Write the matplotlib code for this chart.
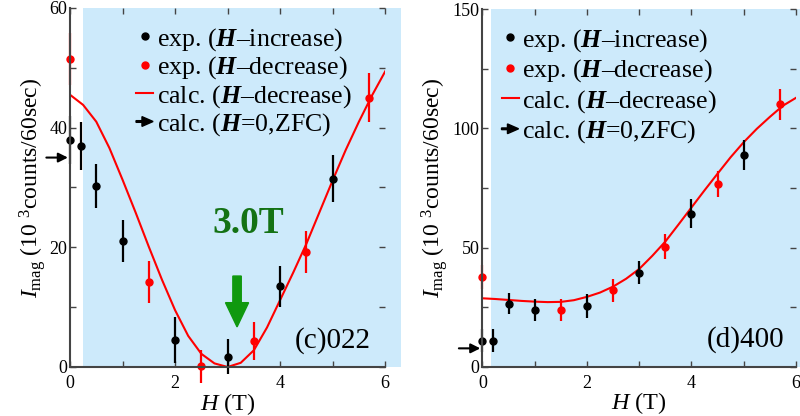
import matplotlib
matplotlib.use("Agg")
import matplotlib.pyplot as plt
from matplotlib.lines import Line2D
from matplotlib.patches import Rectangle, FancyArrow
from matplotlib.legend_handler import HandlerBase
from matplotlib.ticker import MultipleLocator

plt.rcParams['font.family'] = 'Liberation Serif'
plt.rcParams['mathtext.fontset'] = 'custom'
plt.rcParams['mathtext.rm'] = 'Liberation Serif'
plt.rcParams['mathtext.it'] = 'Liberation Serif:italic'
plt.rcParams['mathtext.bf'] = 'Liberation Serif:bold'
plt.rcParams['mathtext.bfit'] = 'Liberation Serif:bold:italic'

# (c) 022
inc_H_c = [0, 0.2, 0.5, 1, 2, 3, 4, 5]
inc_I_c = [38, 37, 30.2, 21, 4.5, 1.7, 13.5, 31.5]
inc_err_c = [4, 4, 3.7, 3.5, 3.8, 2.9, 3.4, 3.9]
dec_H_c = [0, 1.5, 2.5, 3.5, 4.5, 5.7]
dec_I_c = [51.5, 14.2, 0.1, 4.3, 19.2, 45]
dec_err_c = [4.3, 3.5, 2.8, 3.2, 3.5, 4.1]
calc_H_c = [0, 0.25, 0.5, 0.75, 1.0, 1.25, 1.5, 1.75, 2.0, 2.25, 2.5, 2.75, 3.0,
            3.25, 3.5, 3.75, 4.0, 4.25, 4.5, 4.75, 5.0, 5.25, 5.5, 5.75, 6.0]
calc_I_c = [45.5, 43.8, 41.0, 36.6, 31.3, 25.8, 20.1, 14.6, 9.5, 5.2, 2.2, 0.6, 0.0,
            0.7, 2.8, 6.6, 11.2, 15.8, 20.6, 25.9, 31.2, 36.3, 41.0, 45.4, 49.4]
zfc_c = 35

# (d) 400
inc_H_d = [0, 0.2, 0.5, 1, 2, 3, 4, 5]
inc_I_d = [10.9, 10.9, 26.5, 23.8, 25.5, 39.5, 64.2, 88.9]
inc_err_d = [4.9, 4.9, 4.5, 4.7, 4.9, 5, 6, 6.3]
dec_H_d = [0, 1.5, 2.5, 3.5, 4.5, 5.7]
dec_I_d = [37.8, 23.8, 32.1, 50.4, 76.8, 110]
dec_err_d = [5, 4.7, 4.9, 5.3, 5.5, 6.6]
calc_H_d = [0, 0.25, 0.5, 0.75, 1.0, 1.25, 1.5, 1.75, 2.0, 2.25, 2.5, 2.75, 3.0,
            3.25, 3.5, 3.75, 4.0, 4.25, 4.5, 4.75, 5.0, 5.25, 5.5, 5.75, 6.0]
calc_I_d = [28.7, 28.4, 28.0, 27.6, 27.3, 27.1, 27.2, 27.9, 29.3, 31.1, 33.6, 36.9, 41.0,
            46.5, 52.5, 59.6, 66.8, 74.0, 81.0, 87.9, 94.2, 99.8, 104.8, 109.5, 112.8]
zfc_d = 7.7

BLUE = '#cdeafb'
SPINE = '#444444'


class ZfcArrow:
    pass


class HandlerArrow(HandlerBase):
    def create_artists(self, legend, orig_handle, xdescent, ydescent,
                       width, height, fontsize, trans):
        y = height / 2 - ydescent
        arr = FancyArrow(-xdescent, y, width, 0, width=1.2, head_width=7,
                         head_length=8, length_includes_head=True,
                         color='k', transform=trans)
        return [arr]


def panel(ax, inc_H, inc_I, inc_err, dec_H, dec_I, dec_err, calc_H, calc_I,
          ymax, ystep, blue_x0, zfc, tag, tag_xy, leg_x, leg_sp, ylab_x):
    ax.add_patch(Rectangle((blue_x0, 0), 6.3 - blue_x0, ymax, facecolor=BLUE,
                           edgecolor='none', zorder=0, clip_on=False))
    ax.plot(calc_H, calc_I, color='red', lw=1.5, zorder=2)
    ax.errorbar(inc_H, inc_I, yerr=inc_err, fmt='o', color='k', ms=5,
                elinewidth=1.6, capsize=0, zorder=4, clip_on=False)
    ax.errorbar(dec_H, dec_I, yerr=dec_err, fmt='o', color='red', ms=5,
                elinewidth=1.6, capsize=0, zorder=3, clip_on=False)
    ax.annotate('', xy=(-0.04, zfc), xytext=(-0.45, zfc), annotation_clip=False,
                arrowprops=dict(arrowstyle='-|>', color='k', lw=1.5,
                                mutation_scale=14, shrinkA=0, shrinkB=0))
    ax.set_xlim(0, 6)
    ax.set_ylim(0, ymax)
    ax.xaxis.set_major_locator(MultipleLocator(2))
    ax.xaxis.set_minor_locator(MultipleLocator(1))
    ax.yaxis.set_major_locator(MultipleLocator(2 * ystep))
    ax.yaxis.set_minor_locator(MultipleLocator(ystep))
    ax.tick_params(which='both', direction='in', top=True, right=True,
                   length=4, width=1, color=SPINE, labelsize=13)
    ax.tick_params(axis='y', pad=2)
    ax.tick_params(axis='x', pad=6)
    for s in ['top', 'right']:
        ax.spines[s].set_visible(False)
    for s in ['left', 'bottom']:
        ax.spines[s].set_color(SPINE)
        ax.spines[s].set_linewidth(1.5)
        ax.spines[s].set_zorder(5)
    ax.set_xlabel(r'$H$ (T)', fontsize=17.5)
    ax.set_ylabel(r'$I_{\rm mag}$ (10 $^{3}$counts/60sec)', fontsize=17)
    ax.xaxis.set_label_coords(0.5, -0.066)
    ax.yaxis.set_label_coords(ylab_x, 0.5)
    ax.text(tag_xy[0], tag_xy[1], tag, fontsize=21, ha='center', va='center')

    handles = [
        Line2D([], [], ls='none', marker='o', color='k', ms=5),
        Line2D([], [], ls='none', marker='o', color='red', ms=5),
        Line2D([], [], color='red', lw=1.5),
        ZfcArrow(),
    ]
    labels = [
        r'exp. ($\mathbfit{H}$–increase)',
        r'exp. ($\mathbfit{H}$–decrease)',
        r'calc. ($\mathbfit{H}$–decrease)',
        r'calc. ($\mathbfit{H}$=0,ZFC)',
    ]
    ax.legend(handles, labels, loc='upper left', bbox_to_anchor=(leg_x, 0.95),
              frameon=False, fontsize=18.6, handlelength=0.66, handletextpad=0.15,
              labelspacing=leg_sp, borderpad=0, borderaxespad=0,
              handler_map={ZfcArrow: HandlerArrow()})


fig = plt.figure(figsize=(8, 4.16), dpi=100)
ax1 = fig.add_axes([0.0875, 0.1178, 0.394, 0.863])
ax2 = fig.add_axes([0.603, 0.1185, 0.392, 0.8595])

panel(ax1, inc_H_c, inc_I_c, inc_err_c, dec_H_c, dec_I_c, dec_err_c,
      calc_H_c, calc_I_c, 60, 10, 0.25, zfc_c, '(c)022', (5.0, 4.5),
      0.2095, 0.06, -0.07)
panel(ax2, inc_H_d, inc_I_d, inc_err_d, dec_H_d, dec_I_d, dec_err_d,
      calc_H_d, calc_I_d, 150, 25, 0.16, zfc_d, '(d)400', (5.04, 11.5),
      0.061, 0.14, -0.102)

ax1.text(3.4, 24, '3.0T', fontsize=27, fontweight='bold', color='#147214',
         ha='center', va='center', zorder=6)
ax1.arrow(3.18, 15.2, 0, -8.5, width=0.16, head_width=0.44, head_length=4.05,
          length_includes_head=True, color='#10990f', zorder=6)

fig.savefig('out.png', dpi=100)
